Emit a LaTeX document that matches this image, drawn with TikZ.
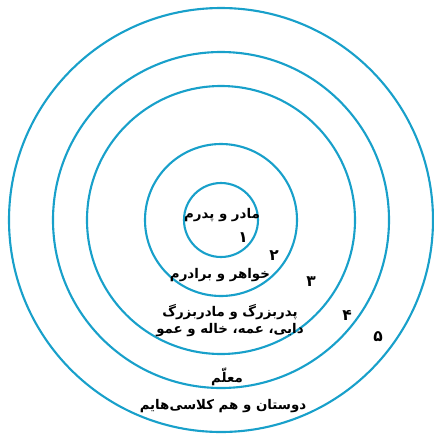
\documentclass[tikz,border=0pt]{standalone}
\usepackage{fontspec}
\usepackage{xcolor}
\usepackage{tikz}
\usetikzlibrary{positioning}
\TeXXeTstate=1
\newfontfamily\farsifont[Script=Arabic]{DejaVu Sans}
\definecolor{ringblue}{RGB}{24,160,202}
\tikzstyle{ring} = [draw=ringblue, line width=1.5pt]
\tikzstyle{label} = [font=\farsifont\bfseries\fontsize{9.5}{11}\selectfont, inner sep=0pt]
\tikzstyle{num} = [font=\farsifont\bfseries\fontsize{11}{13}\selectfont, inner sep=0pt]

\begin{document}
\begin{tikzpicture}[x=0.025cm, y=-0.025cm]
    \useasboundingbox (0,0) rectangle (434,437);
    \coordinate (ctr) at (221,220);

    \draw [ring] (ctr) circle (37);
    \draw [ring] (ctr) circle (76);
    \draw [ring] (ctr) circle (134);
    \draw [ring] (ctr) circle (168);
    \draw [ring] (ctr) circle (212);

    \node (t1) [label] at (222,215) {\beginR مادر و پدرم\endR};
    \node (n1) [num] at (243,238) {۱};
    \node (n2) [num] at (274,256) {۲};
    \node (t2) [label] at (220,275) {\beginR خواهر و برادرم\endR};
    \node (n3) [num] at (311,282) {۳};
    \node (t3) [label] at (230,312) {\beginR پدربزرگ و مادربزرگ\endR};
    \node (t4) [label, below=2pt of t3] {\beginR دایی، عمه، خاله و عمو\endR};
    \node (n4) [num] at (347,315) {۴};
    \node (n5) [num] at (378,337) {۵};
    \node (t5) [label] at (227,377) {\beginR معلّم\endR};
    \node (t6) [label] at (223,406) {\beginR دوستان و هم کلاسی‌هایم\endR};
  \end{tikzpicture}
\end{document}
